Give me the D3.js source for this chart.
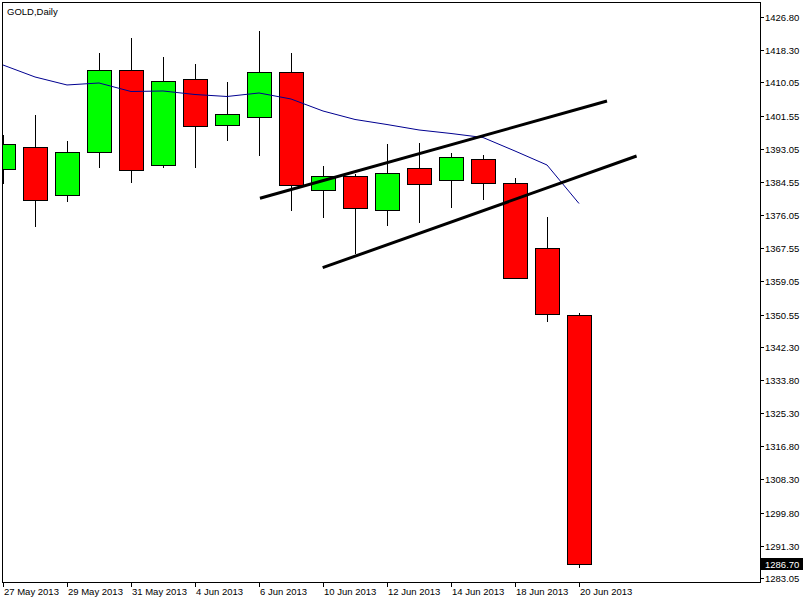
<!DOCTYPE html>
<html>
<head>
<meta charset="utf-8">
<script src="https://cdn.jsdelivr.net/npm/d3@7"></script>
<style>
  body { margin: 0; background: #fff; }
  text { font-family: "Liberation Sans", Arial, sans-serif; font-size: 9.5px; }
</style>
</head>
<body>
<div id="main"></div>
<script>
var WIDTH = 804
var HEIGHT = 600

// daily candles, GOLD
var dates = ["27 May", "28 May", "29 May", "30 May", "31 May", "3 Jun", "4 Jun", "5 Jun", "6 Jun", "7 Jun",
    "10 Jun", "11 Jun", "12 Jun", "13 Jun", "14 Jun", "17 Jun", "18 Jun", "19 Jun", "20 Jun"]
var opens = [1387.77, 1393.41, 1381.11, 1392.13, 1413.14, 1388.80, 1410.84, 1399.05, 1401.10, 1412.63,
    1382.39, 1385.98, 1377.27, 1388.03, 1384.96, 1390.34, 1384.19, 1367.53, 1350.36]
var highs = [1396.56, 1401.69, 1395.03, 1417.58, 1421.42, 1416.55, 1414.76, 1410.15, 1423.21, 1417.58,
    1388.62, 1386.65, 1394.26, 1394.51, 1391.95, 1391.36, 1385.55, 1375.55, 1350.88]
var lows = [1384.01, 1373.07, 1379.47, 1388.18, 1384.34, 1388.18, 1388.18, 1395.10, 1391.26, 1377.17,
    1375.37, 1366.07, 1373.32, 1373.94, 1377.94, 1379.99, 1359.60, 1348.65, 1285.54]
var closes = [1394.18, 1379.83, 1392.13, 1413.14, 1387.52, 1410.32, 1398.79, 1401.87, 1412.63, 1383.68,
    1385.98, 1377.78, 1386.75, 1383.93, 1390.85, 1384.19, 1359.85, 1350.62, 1286.70]

// moving average
var maValues = [1414.50, 1411.43, 1409.38, 1409.89, 1407.71, 1407.84, 1406.94, 1406.43, 1407.33, 1405.79,
    1402.71, 1400.54, 1399.25, 1397.85, 1396.95, 1395.92, 1392.46, 1388.88, 1379.01]

// trend lines: [bar index, price]
var upperLine = [[8.03, 1380.34], [18.875, 1405.28]]
var lowerLine = [[9.99, 1362.56], [19.8, 1391.18]]

var priceTicks = [1426.80, 1418.30, 1410.05, 1401.55, 1393.05, 1384.55, 1376.05, 1367.55, 1359.05,
    1350.55, 1342.30, 1333.80, 1325.30, 1316.80, 1308.30, 1299.80, 1291.30, 1283.05]
var dateTicks = [0, 2, 4, 6, 8, 10, 12, 14, 16, 18]
var dateLabels = ["27 May 2013", "29 May 2013", "31 May 2013", "4 Jun 2013", "6 Jun 2013",
    "10 Jun 2013", "12 Jun 2013", "14 Jun 2013", "18 Jun 2013", "20 Jun 2013"]
var lastPrice = 1286.70

// plot box (window.top is taken, so no "top" here)
var box = { l: 2, t: 2, r: 760, b: 582 }

var x = d3.scaleLinear().domain([0, 18]).range([3, 579])
var y = d3.scaleLinear().domain([1283.05, 1426.80]).range([578, 17])

var svg = d3.select('#main').append('svg')
    .attr('width', WIDTH)
    .attr('height', HEIGHT)

svg.append('defs').append('clipPath').attr('id', 'plot')
    .append('rect')
    .attr('x', box.l + 1).attr('y', box.t + 1)
    .attr('width', box.r - box.l - 1).attr('height', box.b - box.t - 1)

var g = svg.append('g').attr('clip-path', 'url(#plot)')

var candles = d3.range(dates.length).map(i => ({
    i: i, o: opens[i], h: highs[i], l: lows[i], c: closes[i]
}))

// wicks
g.selectAll('line.wick')
    .data(candles)
    .enter()
    .append('line')
    .attr('class', 'wick')
    .attr('x1', d => Math.round(x(d.i)) + 0.5)
    .attr('x2', d => Math.round(x(d.i)) + 0.5)
    .attr('y1', d => Math.round(y(d.h)))
    .attr('y2', d => Math.round(y(d.l)))
    .attr('stroke', '#000')
    .attr('shape-rendering', 'crispEdges')

// bodies
g.selectAll('rect.body')
    .data(candles)
    .enter()
    .append('rect')
    .attr('class', 'body')
    .attr('x', d => Math.round(x(d.i)) - 12 + 0.5)
    .attr('width', 24)
    .attr('y', d => Math.round(y(Math.max(d.o, d.c))) + 0.5)
    .attr('height', d => Math.round(y(Math.min(d.o, d.c))) - Math.round(y(Math.max(d.o, d.c))))
    .attr('fill', d => d.c >= d.o ? '#00ff00' : '#ff0000')
    .attr('stroke', '#000')
    .attr('shape-rendering', 'crispEdges')

// moving average
var maLine = d3.line()
    .x((d, i) => x(i))
    .y(d => y(d))

g.append('path')
    .datum(maValues)
    .attr('d', maLine)
    .attr('fill', 'none')
    .attr('stroke', '#000090')
    .attr('stroke-width', 1)

// channel lines
var tLine = d3.line()
    .x(d => x(d[0]))
    .y(d => y(d[1]))

g.selectAll('path.trend')
    .data([upperLine, lowerLine])
    .enter()
    .append('path')
    .attr('class', 'trend')
    .attr('d', tLine)
    .attr('fill', 'none')
    .attr('stroke', '#000')
    .attr('stroke-width', 3)

// frame
svg.append('path')
    .attr('d', 'M' + (box.r + 0.5) + ',' + (box.b + 0.5) + 'H' + (box.l + 0.5) + 'V' + (box.t + 0.5) + 'H' + (box.r + 0.5) + 'Z')
    .attr('fill', 'none')
    .attr('stroke', '#000')
    .attr('shape-rendering', 'crispEdges')

// price axis
var pt = svg.append('g')
pt.selectAll('line')
    .data(priceTicks)
    .enter()
    .append('line')
    .attr('x1', box.r + 1).attr('x2', box.r + 4)
    .attr('y1', d => Math.round(y(d)) + 0.5)
    .attr('y2', d => Math.round(y(d)) + 0.5)
    .attr('stroke', '#000')
    .attr('shape-rendering', 'crispEdges')
pt.selectAll('text')
    .data(priceTicks)
    .enter()
    .append('text')
    .attr('x', box.r + 5)
    .attr('y', d => Math.round(y(d)) + 3.5)
    .attr('fill', '#000')
    .text(d => d.toFixed(2))

// last price tag
var ly = Math.round(y(lastPrice))
svg.append('rect')
    .attr('x', box.r + 1).attr('y', ly - 6)
    .attr('width', 42).attr('height', 12)
    .attr('fill', '#000')
svg.append('text')
    .attr('x', box.r + 5)
    .attr('y', ly + 3.5)
    .attr('fill', '#fff')
    .text(lastPrice.toFixed(2))

// date axis
var dt = svg.append('g')
dt.selectAll('line')
    .data(dateTicks)
    .enter()
    .append('line')
    .attr('x1', d => Math.round(x(d)) + 0.5)
    .attr('x2', d => Math.round(x(d)) + 0.5)
    .attr('y1', box.b + 1).attr('y2', box.b + 5)
    .attr('stroke', '#000')
    .attr('shape-rendering', 'crispEdges')
dt.selectAll('text')
    .data(dateTicks)
    .enter()
    .append('text')
    .attr('x', d => Math.round(x(d)) + 1)
    .attr('y', box.b + 13)
    .attr('fill', '#000')
    .text((d, i) => dateLabels[i])

// title
svg.append('text')
    .attr('x', 7)
    .attr('y', 15)
    .attr('fill', '#000')
    .text('GOLD,Daily')
</script>
</body>
</html>
